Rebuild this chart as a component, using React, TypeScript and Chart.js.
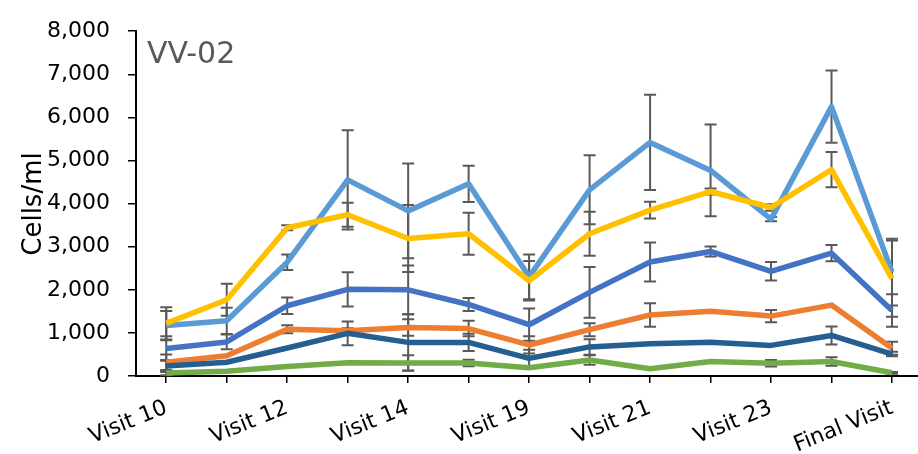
import React, { useEffect, useRef } from 'react';
import { Chart, registerables } from 'chart.js';

Chart.register(...registerables);

// Visit axis: a point at every position, a label on every second one
const tickLabels = ['Visit 10', '', 'Visit 12', '', 'Visit 14', '', 'Visit 19', '', 'Visit 21', '', 'Visit 23', '', 'Final Visit'];

// Mean cell counts (cells/ml) per visit
const lightBlueSeries = [1170, 1280, 2640, 4550, 3830, 4460, 2300, 4320, 5420, 4770, 3640, 6250, 2410];
const yellowSeries = [1220, 1770, 3440, 3740, 3190, 3300, 2210, 3300, 3850, 4280, 3910, 4790, 2260];
const blueSeries = [640, 790, 1630, 2010, 2000, 1660, 1190, 1940, 2645, 2890, 2430, 2850, 1520];
const orangeSeries = [320, 470, 1085, 1050, 1125, 1100, 720, 1075, 1415, 1505, 1390, 1645, 645];
const darkBlueSeries = [230, 320, 650, 990, 780, 780, 410, 675, 750, 785, 710, 940, 510];
const greenSeries = [70, 110, 220, 310, 300, 300, 190, 370, 170, 335, 295, 335, 75];

// Error bar half-lengths (cells/ml)
const lightBlueErr = [340, 305, 180, 1150, 1100, 420, 520, 800, 1105, 1065, 50, 840, 775];
const yellowErr = [375, 370, 60, 280, 775, 485, 460, 510, 195, 70, 75, 410, 885];
const blueErr = [285, 170, 190, 400, 565, 150, 375, 590, 455, 115, 215, 190, 375];
const orangeErr = [180, 0, 95, 60, 190, 180, 200, 150, 275, 0, 140, 0, 150];
const darkBlueErr = [140, 0, 0, 275, 650, 200, 200, 180, 0, 0, 0, 210, 50];
const greenErr = [50, 0, 0, 0, 180, 75, 0, 110, 0, 0, 75, 100, 20];

const FONT = '"DejaVu Sans", Verdana, sans-serif';

const toPoints = (values: number[]) => values.map((v, i) => ({ x: i, y: v }));

// Vertical error bars with end caps, drawn beneath the lines
const errorBarPlugin = {
  id: 'errorBars',
  beforeDatasetsDraw(chart: any) {
    const { ctx, scales } = chart;
    const x = scales.x;
    const y = scales.y;
    ctx.save();
    ctx.strokeStyle = '#595959';
    ctx.lineWidth = 2;
    chart.data.datasets.forEach((ds: any) => {
      ds.errors.forEach((e: number, i: number) => {
        if (!e) return;
        const v = ds.data[i].y;
        const px = x.getPixelForValue(i);
        const top = y.getPixelForValue(v + e);
        const bot = y.getPixelForValue(Math.max(0, v - e));
        ctx.beginPath();
        ctx.moveTo(px, top);
        ctx.lineTo(px, bot);
        ctx.moveTo(px - 6, top);
        ctx.lineTo(px + 6, top);
        ctx.moveTo(px - 6, bot);
        ctx.lineTo(px + 6, bot);
        ctx.stroke();
      });
    });
    ctx.restore();
  },
};

// Panel label and y-axis title
const labelPlugin = {
  id: 'panelLabels',
  afterDraw(chart: any) {
    const { ctx } = chart;
    ctx.save();
    ctx.fillStyle = '#595959';
    ctx.font = `30px ${FONT}`;
    ctx.textAlign = 'left';
    ctx.textBaseline = 'alphabetic';
    ctx.fillText('VV-02', 147, 63);

    ctx.fillStyle = '#000';
    ctx.font = `26px ${FONT}`;
    ctx.translate(34, 204);
    ctx.rotate(-Math.PI / 2);
    ctx.textAlign = 'center';
    ctx.textBaseline = 'middle';
    ctx.fillText('Cells/ml', 0, 0);
    ctx.restore();
  },
};

const line = (values: number[], errors: number[], color: string) => ({
  data: toPoints(values),
  errors,
  borderColor: color,
  backgroundColor: color,
  borderWidth: 5.5,
  pointRadius: 0,
  pointHoverRadius: 0,
  tension: 0,
  fill: false,
  borderJoinStyle: 'round' as const,
});

export default function App() {
  const canvasRef = useRef<HTMLCanvasElement | null>(null);

  useEffect(() => {
    if (!canvasRef.current) return;
    const chart = new Chart(canvasRef.current, {
      type: 'line',
      data: {
        // first dataset is drawn on top
        datasets: [
          line(darkBlueSeries, darkBlueErr, '#255E91'),
          line(greenSeries, greenErr, '#70AD47'),
          line(blueSeries, blueErr, '#4472C4'),
          line(yellowSeries, yellowErr, '#FFC000'),
          line(orangeSeries, orangeErr, '#ED7D31'),
          line(lightBlueSeries, lightBlueErr, '#5B9BD5'),
        ] as any,
      },
      options: {
        animation: false,
        responsive: true,
        maintainAspectRatio: false,
        devicePixelRatio: 1,
        layout: { padding: { top: 23, right: 0, bottom: 0, left: 0 } },
        plugins: {
          legend: { display: false },
          tooltip: { enabled: false },
        },
        scales: {
          x: {
            type: 'linear',
            min: -0.5,
            max: 12.43,
            afterBuildTicks: (scale: any) => {
              scale.ticks = tickLabels.map((_, i) => ({ value: i }));
            },
            afterFit: (scale: any) => {
              scale.height = 78;
            },
            grid: {
              drawOnChartArea: false,
              drawTicks: true,
              tickLength: 7,
              color: '#000',
              lineWidth: 1.5,
            },
            border: { display: true, color: '#000', width: 2 },
            ticks: {
              autoSkip: false,
              minRotation: 22,
              maxRotation: 22,
              padding: 12,
              color: '#000',
              font: { family: FONT, size: 22 },
              callback: (value: any) => tickLabels[Math.round(Number(value))] ?? '',
            },
          },
          y: {
            min: 0,
            max: 8000,
            afterFit: (scale: any) => {
              scale.width = 136;
            },
            grid: {
              drawOnChartArea: false,
              drawTicks: true,
              tickLength: 8,
              color: '#000',
              lineWidth: 1.5,
            },
            border: { display: true, color: '#000', width: 2 },
            ticks: {
              stepSize: 1000,
              padding: 18,
              color: '#000',
              font: { family: FONT, size: 22 },
            },
          },
        },
      } as any,
      plugins: [errorBarPlugin, labelPlugin],
    });
    return () => chart.destroy();
  }, []);

  return (
    <div style={{ position: 'fixed', left: 0, top: 0, width: 918, height: 454, background: '#fff' }}>
      <canvas ref={canvasRef} />
    </div>
  );
}
